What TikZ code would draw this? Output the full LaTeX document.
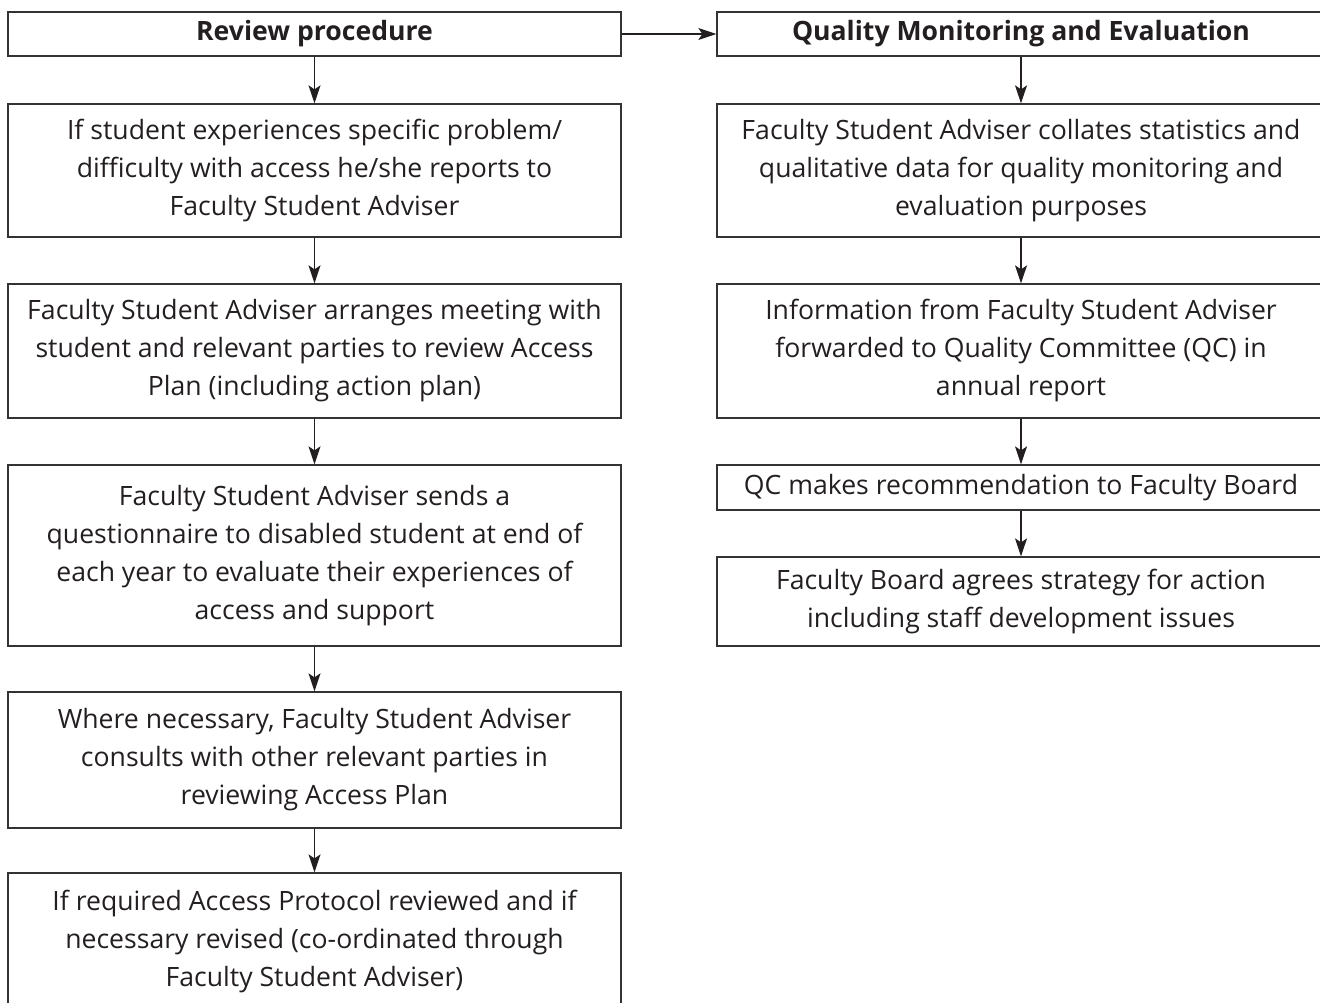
\documentclass[tikz,border=0pt]{standalone}
\usepackage{fontspec}
\usetikzlibrary{arrows.meta}
\newfontfamily\flowfont{Open Sans}
\definecolor{linec}{HTML}{333333}
\definecolor{textc}{HTML}{231F20}
\begin{document}
\begin{tikzpicture}[x=0.5pt,y=-0.5pt,
  box/.style={draw=linec, line width=0.65pt, inner sep=0pt, align=center,
    text=textc, font=\flowfont\fontsize{13.3}{19}\selectfont},
  lbox/.style={box, minimum width=306.5pt},
  rbox/.style={box, minimum width=304pt},
  head/.style={font=\flowfont\bfseries\fontsize{13.3}{19}\selectfont},
  arr/.style={draw=textc, line width=0.65pt, -{Stealth[length=9pt,width=6pt,inset=2pt]}}]
\useasboundingbox (0,0) rectangle (1320,1002);

% left column: review procedure
\node[lbox, head, minimum height=22pt] (l1) at (314.5,34) {Review procedure};
\node[lbox, minimum height=66.5pt] (l2) at (314.5,170.5)
  {If student experiences specific problem/\\difficulty with access he/she reports to\\Faculty Student Adviser};
\node[lbox, minimum height=67pt] (l3) at (314.5,351)
  {Faculty Student Adviser arranges meeting with\\student and relevant parties to review Access\\Plan (including action plan)};
\node[lbox, minimum height=90.5pt] (l4) at (314.5,555.5)
  {Faculty Student Adviser sends a\\questionnaire to disabled student at end of\\each year to evaluate their experiences of\\access and support};
\node[lbox, minimum height=68pt] (l5) at (314.5,760)
  {Where necessary, Faculty Student Adviser\\consults with other relevant parties in\\reviewing Access Plan};
\node[lbox, minimum height=68.5pt] (l6) at (314.5,941.5)
  {If required Access Protocol reviewed and if\\necessary revised (co-ordinated through\\Faculty Student Adviser)};

% right column: quality monitoring
\node[rbox, head, minimum height=22pt] (r1) at (1021,34) {Quality Monitoring and Evaluation};
\node[rbox, minimum height=66.5pt] (r2) at (1021,170.5)
  {Faculty Student Adviser collates statistics and\\qualitative data for quality monitoring and\\evaluation purposes};
\node[rbox, minimum height=67pt] (r3) at (1021,351)
  {Information from Faculty Student Adviser\\forwarded to Quality Committee (QC) in\\annual report};
\node[rbox, minimum height=22.5pt] (r4) at (1021,487.5)
  {QC makes recommendation to Faculty Board};
\node[rbox, minimum height=44.5pt] (r5) at (1021,601.5)
  {Faculty Board agrees strategy for action\\including staff development issues};

% connectors
\draw[arr] (l1) -- (l2);
\draw[arr] (l2) -- (l3);
\draw[arr] (l3) -- (l4);
\draw[arr] (l4) -- (l5);
\draw[arr] (l5) -- (l6);
\draw[arr] (l1.east) -- (r1.west);
\draw[arr] (r1) -- (r2);
\draw[arr] (r2) -- (r3);
\draw[arr] (r3) -- (r4);
\draw[arr] (r4) -- (r5);
\end{tikzpicture}
\end{document}
